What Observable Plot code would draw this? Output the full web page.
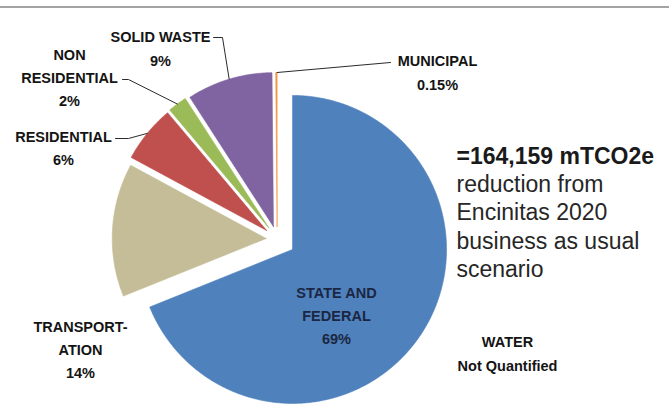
<!DOCTYPE html>
<html>
<head>
<meta charset="utf-8">
<script src="https://cdn.jsdelivr.net/npm/d3@7"></script>
<script src="https://cdn.jsdelivr.net/npm/@observablehq/plot@0.6"></script>
<style>
  body { margin: 0; background: #ffffff; }
  #wrap { position: relative; width: 669px; height: 404px; overflow: hidden; background: #ffffff; }
  #topline { position: absolute; left: 0; top: 6px; width: 669px; height: 2px; background: #a4a4a4; }
  #wrap svg { position: absolute; left: 0; top: 0; }
</style>
</head>
<body>
<div id="wrap"><div id="topline"></div></div>
<script>
// ---- data ----
const categories = ["State and Federal", "Transportation", "Residential", "Non Residential", "Solid Waste", "Municipal"];
const shares = [69, 14, 6, 2, 9, 0.15];
const sliceLabels = ["STATE AND\nFEDERAL\n69%", "TRANSPORT-\nATION\n14%", "RESIDENTIAL\n6%", "NON\nRESIDENTIAL\n2%", "SOLID WASTE\n9%", "MUNICIPAL\n0.15%"];
const colors = ["#4f81bd", "#c4bd97", "#c0504d", "#9bbb59", "#8064a2", "#f79646"];
const noteTitle = "=164,159 mTCO2e";
const noteBody = "reduction from\nEncinitas 2020\nbusiness as usual\nscenario";
const waterLabel = "WATER\nNot Quantified";

// ---- layout (pixels) ----
const W = 669, H = 404;
const center = [276.7, 238.6];
const R = 154;
const explode = [18.5, 11, 13.5, 14, 13, 12.6];
const labelPos = [[336, 313], [80, 347], [63, 145.5], [69, 75], [160, 46], [437, 70]];
const leaderStart = [null, null, [[115, 138], [128, 138]], [[122, 79], [128, 79]], [[213, 37], [222, 37]], [[390, 62]]];

// ---- geometry from the data ----
const arcs = d3.pie().sort(null).value(d => d)(shares);
const slicePts = [];
const sliceCenters = [];
arcs.forEach((a, i) => {
  const mid = (a.startAngle + a.endAngle) / 2;
  const cx = center[0] + explode[i] * Math.sin(mid);
  const cy = center[1] - explode[i] * Math.cos(mid);
  sliceCenters.push({cx, cy, mid});
  const cat = categories[i];
  slicePts.push({cat, x: cx, y: cy});
  const n = Math.max(2, Math.ceil((a.endAngle - a.startAngle) / 0.01));
  for (let k = 0; k <= n; k++) {
    const t = a.startAngle + (a.endAngle - a.startAngle) * k / n;
    slicePts.push({cat, x: cx + R * Math.sin(t), y: cy - R * Math.cos(t)});
  }
  slicePts.push({cat, x: cx, y: cy});
});

const leaderPts = [];
leaderStart.forEach((pts, i) => {
  if (!pts) return;
  pts.forEach(p => leaderPts.push({id: i, x: p[0], y: p[1]}));
  const s = sliceCenters[i];
  const ang = i === 5 ? arcs[i].endAngle : s.mid;
  leaderPts.push({id: i, x: s.cx + R * Math.sin(ang), y: s.cy - R * Math.cos(ang)});
});

const outerLabels = sliceLabels.map((t, i) => ({text: t, x: labelPos[i][0], y: labelPos[i][1], inside: i === 0}));

const chart = Plot.plot({
  width: W,
  height: H,
  margin: 0,
  style: {background: "transparent", fontFamily: "'Liberation Sans', Arial, sans-serif"},
  x: {domain: [0, W], range: [0, W], axis: null},
  y: {domain: [0, H], range: [0, H], axis: null},
  color: {domain: categories, range: colors},
  marks: [
    Plot.line(slicePts, {x: "x", y: "y", z: "cat", fill: "cat", stroke: "cat", strokeWidth: 0.6, curve: "linear"}),
    Plot.line(leaderPts, {x: "x", y: "y", z: "id", stroke: "#2a2a2a", strokeWidth: 1}),
    Plot.text(outerLabels.filter(d => !d.inside), {x: "x", y: "y", text: "text", fontWeight: "bold", fontSize: 14.5, lineHeight: 1.6, fill: "#141414"}),
    Plot.text(outerLabels.filter(d => d.inside), {x: "x", y: "y", text: "text", fontWeight: "bold", fontSize: 14.5, lineHeight: 1.6, fill: "#1b2742"}),
    Plot.text([waterLabel], {x: () => 507, y: () => 351, text: d => d, fontWeight: "bold", fontSize: 14.5, lineHeight: 1.65, fill: "#141414"}),
    Plot.text([noteTitle], {x: () => 456, y: () => 156, text: d => d, textAnchor: "start", fontWeight: "bold", fontSize: 23, fill: "#1a1a1a"}),
    Plot.text([noteBody], {x: () => 456, y: () => 225, text: d => d, textAnchor: "start", fontSize: 23, lineHeight: 1.22, fill: "#262626"})
  ]
});
document.getElementById("wrap").appendChild(chart);
</script>
</body>
</html>
